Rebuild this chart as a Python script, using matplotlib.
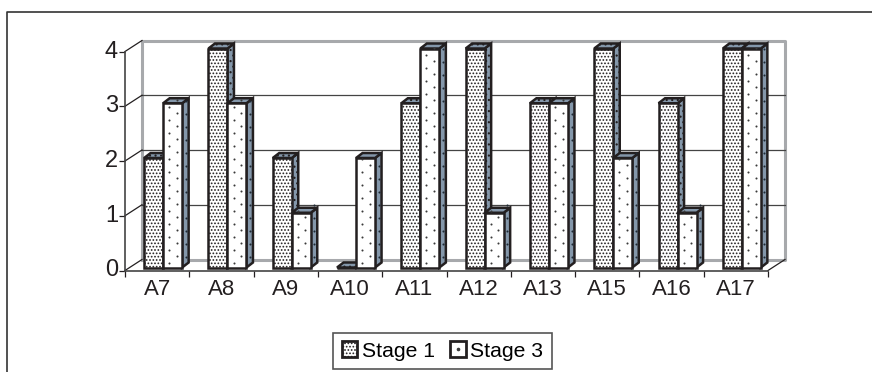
import matplotlib
matplotlib.use('Agg')
import matplotlib.pyplot as plt
import numpy as np
from matplotlib.legend_handler import HandlerTuple
from matplotlib.lines import Line2D
from matplotlib.patches import Polygon, Rectangle
from matplotlib.transforms import ScaledTranslation

categories = ['A7', 'A8', 'A9', 'A10', 'A11', 'A12', 'A13', 'A15', 'A16', 'A17']
stage1 = [2, 4, 2, 0, 3, 4, 3, 4, 3, 4]
stage3 = [3, 3, 1, 2, 4, 1, 3, 2, 1, 4]
yticks = [0, 1, 2, 3, 4]

W, H = 872, 372
# front plane of the fake 3d box, in pixels
X0, X1, Y0, Y4 = 125, 768, 270.5, 51.5
UX = (X1 - X0) / len(categories)
UY = (Y0 - Y4) / 4
WALL_DX, WALL_DY = 17 / UX, 11 / UY
BAR_DX, BAR_DY = 6.5 / UX, 5 / UY
BAR_W = 19 / UX
BAR_SHIFT, BAR_BASE = 6 / UX, 3 / UY
DARK = '#231f20'
GREY = '#a7a9ac'
SIDE = '#8497aa'
DOT = '#3a3a3a'

plt.rcParams['font.family'] = 'Liberation Sans'
plt.rcParams['hatch.linewidth'] = 0.8
plt.rcParams['hatch.color'] = '#222222'

fig = plt.figure(figsize=(W / 100, H / 100), dpi=100)
# page frame: only the top and left edges show in this crop
fig.add_artist(Line2D([6.5 / W, 6.5 / W, 1], [0, 1 - 12 / H, 1 - 12 / H],
                      transform=fig.transFigure, color='#333333', lw=1.2))
ax = fig.add_axes([X0 / W, 1 - Y0 / H, (X1 - X0) / W, (Y0 - Y4) / H])
ax.set_xlim(0, len(categories))
ax.set_ylim(0, 4)
ax.patch.set_visible(False)

# back wall and floor
n = len(categories)
ax.plot([WALL_DX, WALL_DX, n + WALL_DX, n + WALL_DX, WALL_DX],
        [WALL_DY, 4 + WALL_DY, 4 + WALL_DY, WALL_DY, WALL_DY],
        color=GREY, lw=2.2, clip_on=False, zorder=1)
for v in yticks[1:-1]:
    ax.plot([WALL_DX, n + WALL_DX], [v + WALL_DY] * 2, color='#444444', lw=0.9,
            clip_on=False, zorder=1)
for v in yticks:
    ax.plot([0, WALL_DX], [v, v + WALL_DY], color=DARK, lw=0.9, clip_on=False, zorder=1)
ax.plot([n, n + WALL_DX], [0, WALL_DY], color=DARK, lw=0.9, clip_on=False, zorder=1)


def draw_bar(left, value, front_hatch, side_hatch, z):
    base = BAR_BASE
    top = value + BAR_BASE
    right = left + BAR_W
    style = dict(ec=DARK, lw=1.8, clip_on=False, zorder=z, joinstyle='miter')
    side = [(right, base), (right + BAR_DX, base + BAR_DY),
            (right + BAR_DX, top + BAR_DY), (right, top)]
    cap = [(left, top), (left + BAR_DX, top + BAR_DY),
           (right + BAR_DX, top + BAR_DY), (right, top)]
    ax.add_patch(Polygon(side, fc=SIDE, hatch=side_hatch, **style))
    ax.add_patch(Polygon(cap, fc=SIDE, hatch=side_hatch, **style))
    ax.add_patch(Rectangle((left, base), BAR_W, value, fc='white', hatch=front_hatch, **style))


def sprinkle(left, value, z):
    # sparse staggered dots of the Stage 3 fill, hatch dots come out too big
    base = BAR_BASE
    for frac, phase in [(0.32, 0.0), (0.72, 0.5)]:
        ys = base + (np.arange(phase, value * UY / 13.0, 1.0) + 0.35) * 13 / UY
        xs = np.full(len(ys), left + frac * BAR_W)
        ax.scatter(xs, ys, s=2.2, color=DOT, lw=0, clip_on=False, zorder=z)
    ys = base + (np.arange(0, value * UY / 13.0, 1.0) + 0.6) * 13 / UY
    xs = np.full(len(ys), left + BAR_W + 0.55 * BAR_DX)
    ax.scatter(xs, ys + 0.55 * BAR_DY, s=2.2, color='#1f2a35', lw=0, clip_on=False, zorder=z)


HATCH1, HATCH1_SIDE = '.....', '...'
for i, (a, b) in enumerate(zip(stage1, stage3)):
    c = i + 0.5 + BAR_SHIFT
    draw_bar(c - BAR_W, a, HATCH1, HATCH1_SIDE, 3)
    draw_bar(c, b, None, None, 4)
    sprinkle(c, b, 4.5)

ax.set_xticks(range(n + 1))
ax.set_xticklabels([])
ax.set_xticks([i + 0.5 for i in range(n)], categories, minor=True, fontsize=16, color=DARK)
ax.tick_params(axis='x', which='major', length=4, width=0.9, color=DARK, direction='out')
ax.tick_params(axis='x', which='minor', length=0, pad=6)
ax.set_yticks(yticks)
ax.tick_params(axis='y', length=4, width=0.9, color=DARK, labelsize=17, labelcolor=DARK, pad=1)
# labels sit a little above their ticks
up = ScaledTranslation(0, 2.5 / 100, fig.dpi_scale_trans)
for lab in ax.get_yticklabels():
    lab.set_transform(lab.get_transform() + up)
for s in ['top', 'right']:
    ax.spines[s].set_visible(False)
for s in ['left', 'bottom']:
    ax.spines[s].set_color('#444444')
    ax.spines[s].set_linewidth(1.2)

box1 = Rectangle((0, 0), 1, 1, fc='white', ec=DARK, lw=2, hatch='.....')
box3 = Rectangle((0, 0), 1, 1, fc='white', ec=DARK, lw=2)
dot3 = Line2D([], [], ls='', marker='o', ms=1.6, color=DOT)
leg = fig.legend([box1, (box3, dot3)], ['Stage 1', 'Stage 3'], ncol=2, fontsize=15.2,
                 handler_map={tuple: HandlerTuple(ndivide=1, pad=0)},
                 loc='center', bbox_to_anchor=(442.5 / W, 1 - 351 / H),
                 fancybox=False, framealpha=1, edgecolor='#555555',
                 handlelength=0.75, handleheight=0.75, handletextpad=0.2,
                 columnspacing=0.75, borderpad=0.4)
leg.get_frame().set_linewidth(1.2)

fig.savefig('out.png', dpi=100)
